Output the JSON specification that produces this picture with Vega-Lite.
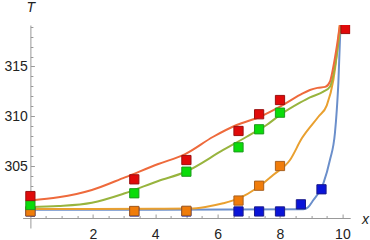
{
  "$schema": "https://vega.github.io/schema/vega-lite/v6.json",
  "width": 327.6,
  "height": 203,
  "autosize": {"type": "none"},
  "padding": {"left": 22.6, "top": 25, "right": 19.8, "bottom": 12},
  "config": {"view": {"stroke": null}, "font": "Liberation Sans"},
  "datasets": {
    "lines": [
      {"s": "s1", "x": 0, "T": 300.6}, {"s": "s1", "x": 4, "T": 300.6}, {"s": "s1", "x": 8.75, "T": 300.65}, {"s": "s1", "x": 8.9, "T": 300.85}, {"s": "s1", "x": 9.07, "T": 301.58}, {"s": "s1", "x": 9.39, "T": 303.26}, {"s": "s1", "x": 9.6, "T": 305.6}, {"s": "s1", "x": 9.76, "T": 308.29}, {"s": "s1", "x": 9.82, "T": 310.63}, {"s": "s1", "x": 9.87, "T": 313.31}, {"s": "s1", "x": 9.93, "T": 318.37}, {"s": "s1", "x": 9.97, "T": 320.6},
      {"s": "s2", "x": 0, "T": 300.68}, {"s": "s2", "x": 2, "T": 300.68}, {"s": "s2", "x": 4, "T": 300.7}, {"s": "s2", "x": 5.12, "T": 300.72}, {"s": "s2", "x": 5.65, "T": 300.91}, {"s": "s2", "x": 6.18, "T": 301.25}, {"s": "s2", "x": 6.68, "T": 301.75}, {"s": "s2", "x": 7.25, "T": 302.76}, {"s": "s2", "x": 7.78, "T": 304.1}, {"s": "s2", "x": 8.32, "T": 305.6}, {"s": "s2", "x": 8.7, "T": 307.78}, {"s": "s2", "x": 9.23, "T": 309.95}, {"s": "s2", "x": 9.5, "T": 311.1}, {"s": "s2", "x": 9.71, "T": 313.64}, {"s": "s2", "x": 9.82, "T": 316.16}, {"s": "s2", "x": 9.89, "T": 318.34}, {"s": "s2", "x": 9.95, "T": 320.2},
      {"s": "s3", "x": 0, "T": 300.88}, {"s": "s3", "x": 0.9, "T": 300.98}, {"s": "s3", "x": 1.97, "T": 301.31}, {"s": "s3", "x": 3.03, "T": 302.26}, {"s": "s3", "x": 4.1, "T": 303.5}, {"s": "s3", "x": 4.96, "T": 304.4}, {"s": "s3", "x": 6.18, "T": 306.61}, {"s": "s3", "x": 6.93, "T": 307.94}, {"s": "s3", "x": 7.57, "T": 309.12}, {"s": "s3", "x": 8.0, "T": 310.13}, {"s": "s3", "x": 8.64, "T": 311.36}, {"s": "s3", "x": 8.96, "T": 311.9}, {"s": "s3", "x": 9.39, "T": 312.47}, {"s": "s3", "x": 9.6, "T": 312.97}, {"s": "s3", "x": 9.76, "T": 314.98}, {"s": "s3", "x": 9.87, "T": 317.33}, {"s": "s3", "x": 9.95, "T": 319.17}, {"s": "s3", "x": 10.02, "T": 320.6},
      {"s": "s4", "x": 0, "T": 301.53}, {"s": "s4", "x": 0.9, "T": 301.85}, {"s": "s4", "x": 1.97, "T": 302.59}, {"s": "s4", "x": 3.03, "T": 303.86}, {"s": "s4", "x": 4.1, "T": 305.2}, {"s": "s4", "x": 4.96, "T": 306.2}, {"s": "s4", "x": 5.86, "T": 307.94}, {"s": "s4", "x": 6.61, "T": 309.12}, {"s": "s4", "x": 7.36, "T": 309.95}, {"s": "s4", "x": 8.0, "T": 310.96}, {"s": "s4", "x": 8.64, "T": 312.14}, {"s": "s4", "x": 8.96, "T": 312.64}, {"s": "s4", "x": 9.2, "T": 312.85}, {"s": "s4", "x": 9.45, "T": 312.95}, {"s": "s4", "x": 9.6, "T": 313.47}, {"s": "s4", "x": 9.71, "T": 314.98}, {"s": "s4", "x": 9.82, "T": 316.99}, {"s": "s4", "x": 9.92, "T": 319.17}, {"s": "s4", "x": 10, "T": 320.6}
    ],
    "pts": [
      {"s": "s1", "x": 0, "T": 300.43}, {"s": "s1", "x": 3.33, "T": 300.43}, {"s": "s1", "x": 5, "T": 300.43}, {"s": "s1", "x": 6.67, "T": 300.43}, {"s": "s1", "x": 7.33, "T": 300.43}, {"s": "s1", "x": 8, "T": 300.43}, {"s": "s1", "x": 8.67, "T": 301.15}, {"s": "s1", "x": 9.33, "T": 302.66},
      {"s": "s2", "x": 0, "T": 300.45}, {"s": "s2", "x": 3.33, "T": 300.48}, {"s": "s2", "x": 5, "T": 300.5}, {"s": "s2", "x": 6.67, "T": 301.53}, {"s": "s2", "x": 7.33, "T": 303.02}, {"s": "s2", "x": 8, "T": 305.0},
      {"s": "s3", "x": 0, "T": 301.08}, {"s": "s3", "x": 3.33, "T": 302.26}, {"s": "s3", "x": 5, "T": 304.43}, {"s": "s3", "x": 6.67, "T": 306.88}, {"s": "s3", "x": 7.33, "T": 308.69}, {"s": "s3", "x": 8, "T": 310.36},
      {"s": "s4", "x": 0, "T": 301.98}, {"s": "s4", "x": 3.33, "T": 303.66}, {"s": "s4", "x": 5, "T": 305.6}, {"s": "s4", "x": 6.67, "T": 308.52}, {"s": "s4", "x": 7.33, "T": 310.2}, {"s": "s4", "x": 8, "T": 311.63}, {"s": "s4", "x": 10.1, "T": 318.77}
    ]
  },
  "encoding": {
    "x": {
      "field": "x", "type": "quantitative",
      "scale": {"domain": [-0.25, 10.25], "nice": false, "zero": false},
      "axis": {
        "title": "x", "grid": false, "offset": -10,
        "values": [0.5, 1, 1.5, 2, 2.5, 3, 3.5, 4, 4.5, 5, 5.5, 6, 6.5, 7, 7.5, 8, 8.5, 9, 9.5, 10],
        "labelExpr": "datum.value % 2 === 0 ? format(datum.value, 'd') : ''",
        "tickSize": {"condition": {"test": "datum.value % 2 === 0", "value": -4}, "value": -2.5},
        "domainColor": "#999999", "tickColor": "#999999", "tickWidth": 1, "domainWidth": 1,
        "labelFontSize": 14, "labelColor": "#222222", "labelPadding": 13, "labelFlush": false, "labelOverlap": false,
        "titleFontStyle": "italic", "titleFontWeight": "normal", "titleFontSize": 14, "titleColor": "#222222",
        "titleX": 342.4, "titleY": 5, "titleAlign": "center", "titleBaseline": "alphabetic"
      }
    },
    "y": {
      "field": "T", "type": "quantitative",
      "scale": {"domain": [298.77, 319.17], "nice": false, "zero": false},
      "axis": {
        "title": "T", "grid": false, "offset": -7.8,
        "values": [300, 301, 302, 303, 304, 305, 306, 307, 308, 309, 310, 311, 312, 313, 314, 315, 316, 317, 318, 319],
        "labelExpr": "datum.value % 5 === 0 && datum.value > 300 ? datum.label : ''",
        "tickSize": {"condition": {"test": "datum.value % 5 === 0", "value": -4}, "value": -2.5},
        "domainColor": "#999999", "tickColor": "#999999", "tickWidth": 1, "domainWidth": 1,
        "labelFontSize": 14, "labelColor": "#222222", "labelPadding": 7, "labelFlush": false, "labelOverlap": false,
        "titleFontStyle": "italic", "titleFontWeight": "normal", "titleFontSize": 14, "titleColor": "#222222",
        "titleAngle": 0, "titleX": 0, "titleY": -13.5, "titleAlign": "center", "titleBaseline": "alphabetic"
      }
    }
  },
  "layer": [
    {
      "data": {"name": "lines"},
      "mark": {"type": "line", "interpolate": "monotone", "strokeWidth": 2, "clip": true},
      "encoding": {
        "color": {"field": "s", "type": "nominal", "legend": null,
          "scale": {"domain": ["s1", "s2", "s3", "s4"], "range": ["#6B8FCB", "#E9A030", "#98B43E", "#EE6A3C"]}}
      }
    },
    {
      "data": {"name": "pts"},
      "mark": {"type": "point", "shape": "square", "filled": true, "size": 85, "strokeWidth": 1, "opacity": 1, "clip": true},
      "encoding": {
        "fill": {"field": "s", "type": "nominal", "legend": null,
          "scale": {"domain": ["s1", "s2", "s3", "s4"], "range": ["#0A14D8", "#F07C0A", "#0ADC0A", "#E00A0A"]}},
        "stroke": {"field": "s", "type": "nominal", "legend": null,
          "scale": {"domain": ["s1", "s2", "s3", "s4"], "range": ["#1A1A8A", "#A8601E", "#1E9A1E", "#9A1010"]}}
      }
    }
  ]
}
